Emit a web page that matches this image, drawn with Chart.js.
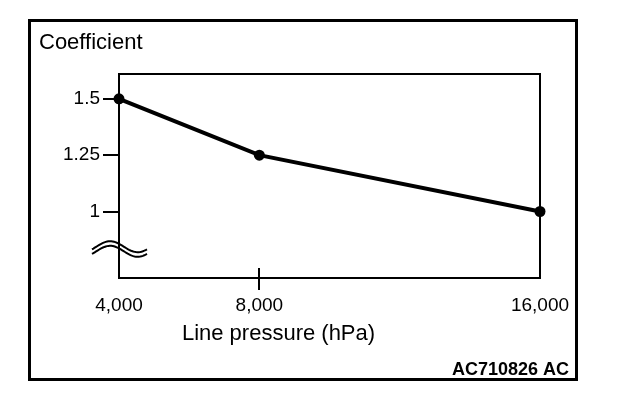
<!DOCTYPE html>
<html>
<head>
<meta charset="utf-8">
<script src="https://cdn.jsdelivr.net/npm/chart.js@4"></script>
<style>
  body { margin: 0; background: #fff; }
  canvas { display: block; }
</style>
</head>
<body>
<canvas id="coefChart" width="624" height="398"></canvas>
<script>
// Chart data
const pressures = [4000, 8000, 16000];
const coefficients = [1.5, 1.25, 1];
const xTicks = [4000, 8000, 16000];
const yTicks = [1, 1.25, 1.5];
const yTitle = "Coefficient";
const xTitle = "Line pressure (hPa)";
const figureCode = "AC710826 AC";

const FONT = "'Liberation Sans', Arial, sans-serif";

// Frame, box, break mark and labels
const decorations = {
    id: 'decorations',
    afterDraw(chart) {
        const ctx = chart.ctx;
        const a = chart.chartArea;
        ctx.save();
        ctx.strokeStyle = '#000';

        // outer frame
        ctx.lineWidth = 3;
        ctx.strokeRect(29.5, 20.5, 547, 359);

        // top and right side of the plot box
        ctx.lineWidth = 2;
        ctx.beginPath();
        ctx.moveTo(a.left, a.top);
        ctx.lineTo(a.right, a.top);
        ctx.lineTo(a.right, a.bottom);
        ctx.stroke();

        // inner half of the 8,000 tick
        const xs = chart.scales.x;
        const tx = Math.round(xs.getPixelForValue(8000));
        ctx.beginPath();
        ctx.moveTo(tx, a.bottom - 10);
        ctx.lineTo(tx, a.bottom);
        ctx.stroke();

        // axis break mark (double wavy line)
        const bx = a.left;
        const by = a.bottom - 29;
        ctx.lineWidth = 2;
        [-2.3, 2.3].forEach(off => {
            ctx.beginPath();
            for (let i = 0; i <= 40; i++) {
                const t = i / 40;
                const px = bx - 27 + t * 55;
                const py = by + off - 5.5 * Math.sin(t * Math.PI * 2 - 0.5);
                if (i === 0) ctx.moveTo(px, py); else ctx.lineTo(px, py);
            }
            ctx.stroke();
        });

        // texts
        ctx.fillStyle = '#000';
        ctx.textBaseline = 'alphabetic';
        ctx.font = '22px ' + FONT;
        ctx.textAlign = 'left';
        ctx.fillText(yTitle, 39, 49);
        ctx.textAlign = 'center';
        ctx.fillText(xTitle, (183 + 374) / 2, 340);
        ctx.font = 'bold 18px ' + FONT;
        ctx.textAlign = 'right';
        ctx.fillText(figureCode, 569, 375);
        ctx.restore();
    }
};

document.addEventListener("DOMContentLoaded", function () {
    const ctx = document.getElementById('coefChart').getContext('2d');
    new Chart(ctx, {
        type: 'line',
        data: {
            datasets: [{
                data: pressures.map((p, i) => ({ x: p, y: coefficients[i] })),
                borderColor: '#000',
                borderWidth: 4,
                pointRadius: 5.5,
                pointBackgroundColor: '#000',
                pointBorderWidth: 0,
                tension: 0,
                fill: false,
                clip: false
            }]
        },
        options: {
            responsive: false,
            animation: false,
            devicePixelRatio: 1,
            layout: { padding: { left: 0, right: 84, top: 74, bottom: 80 } },
            plugins: {
                legend: { display: false },
                tooltip: { enabled: false }
            },
            scales: {
                x: {
                    type: 'linear',
                    min: 4000,
                    max: 16000,
                    afterBuildTicks: s => { s.ticks = xTicks.map(v => ({ value: v })); },
                    afterFit: s => { s.height = 40; },
                    grid: {
                        drawOnChartArea: false,
                        tickLength: 12,
                        lineWidth: 2,
                        color: c => (c.tick && c.tick.value === 8000) ? '#000' : 'rgba(0,0,0,0)'
                    },
                    border: { display: true, color: '#000', width: 2 },
                    ticks: {
                        color: '#000',
                        padding: 4,
                        maxRotation: 0,
                        font: { family: FONT, size: 19 },
                        callback: v => v.toLocaleString('en-US')
                    }
                },
                y: {
                    min: 0.705,
                    max: 1.61,
                    afterBuildTicks: s => { s.ticks = yTicks.map(v => ({ value: v })); },
                    afterFit: s => { s.width = 119; },
                    grid: {
                        drawOnChartArea: false,
                        tickLength: 16,
                        lineWidth: 2,
                        color: '#000'
                    },
                    border: { display: true, color: '#000', width: 2 },
                    ticks: {
                        color: '#000',
                        padding: 3,
                        font: { family: FONT, size: 19 },
                        callback: v => String(v)
                    }
                }
            }
        },
        plugins: [decorations]
    });
});
</script>
</body>
</html>
